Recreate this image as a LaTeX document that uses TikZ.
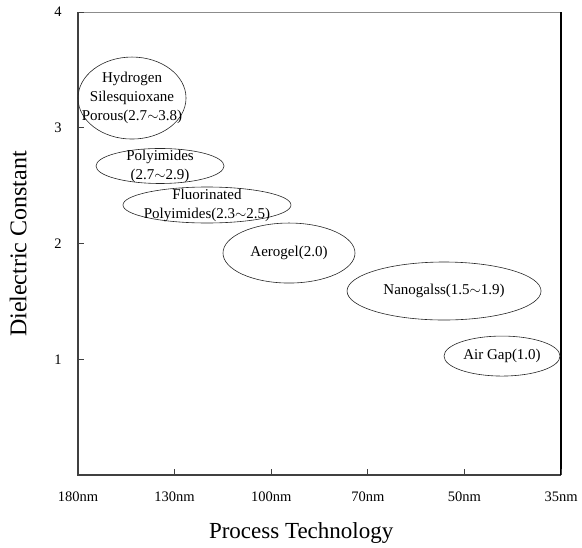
\documentclass[tikz,border=0pt]{standalone}
\usepackage{fontspec}
\setmainfont{Liberation Serif}
\usepackage{tikz}
\usetikzlibrary{positioning, shapes.geometric}

\newcommand{\rng}[2]{(#1$\sim$#2)}

\begin{document}
\begin{tikzpicture}[
  x=96.6pt, y=115.75pt, semithick,
  film/.style={ellipse,draw=black!85,line width=0.6pt,inner sep=0pt},
  lbl/.style={align=center,font=\fontsize{15}{19}\selectfont,inner sep=0pt},
  tick/.style={font=\fontsize{14.5}{17}\selectfont,inner sep=0pt},
  axtitle/.style={font=\fontsize{23}{26}\selectfont,inner sep=0pt}
]
\useasboundingbox (-0.8075,-0.622) rectangle (5.217,4.104);

% --- Frame ---
\coordinate (o)  at (0,0);
\coordinate (xe) at (5,0);
\coordinate (ye) at (0,4);
\coordinate (tr) at (5,4);
\draw[black!75,line width=1.2pt] (ye) -- (o) -- (xe);
\draw[black!45,line width=1pt] (ye) -- (tr);
\draw[black,line width=1.6pt] (tr) -- (xe);

% --- Ticks ---
\foreach \i/\t in {0/180nm,1/130nm,2/100nm,3/70nm,4/50nm,5/35nm}{
  \draw[black!75,line width=0.8pt] (\i,0) -- ++(0,6pt);
  \node[tick] (xt\i) at ([yshift=-22pt]\i,0) {\t};
}
\foreach \k in {1,2,3,4}{
  \draw[black!75,line width=0.8pt] (0,\k) -- ++(6pt,0);
  \node[tick,anchor=east] (yt\k) at ([xshift=-16pt]0,\k) {\k};
}

% --- Axis titles ---
\node[axtitle] (xlab) at (2.31,-0.5) {Process Technology};
\node[axtitle,font=\fontsize{24}{27}\selectfont,rotate=90] (ylab) at (-0.62,1.996) {Dielectric Constant};

% --- Materials ---
\node[film,minimum width=108pt,minimum height=82pt] (hsq)  at (0.559,3.257) {};
\node[film,minimum width=128pt,minimum height=35pt] (pi)   at (0.849,2.670) {};
\node[film,minimum width=168pt,minimum height=36pt] (fpi)  at (1.335,2.333) {};
\node[film,minimum width=132pt,minimum height=60pt] (aero) at (2.184,1.918) {};
\node[film,minimum width=194pt,minimum height=58pt] (nano) at (3.789,1.590) {};
\node[film,minimum width=116pt,minimum height=40pt] (air)  at (4.389,1.028) {};

\node[lbl] (hsqt)  at (hsq)  {Hydrogen\\Silesquioxane\\Porous\rng{2.7}{3.8}};
\node[lbl] (pit)   at (pi)   {Polyimides\\\rng{2.7}{2.9}};
\node[lbl] (fpit)  at (fpi)  {Fluorinated\\Polyimides\rng{2.3}{2.5}};
\node[lbl] (aerot) at (aero) {Aerogel(2.0)};
\node[lbl] (nanot) at (nano) {Nanogalss\rng{1.5}{1.9}};
\node[lbl] (airt)  at (air)  {Air Gap(1.0)};

\end{tikzpicture}
\end{document}
